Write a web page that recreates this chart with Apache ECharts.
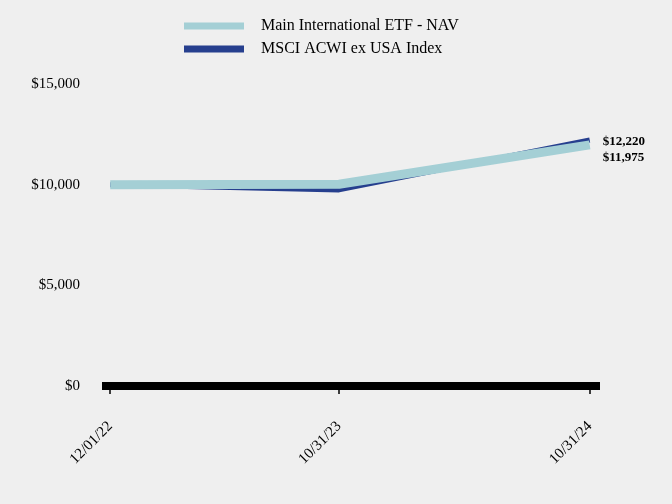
<!DOCTYPE html>
<html>
<head>
<meta charset="utf-8">
<script src="https://cdn.jsdelivr.net/npm/echarts@6/dist/echarts.min.js"></script>
<style>
html,body{margin:0;padding:0;background:#efefef;}
#chart{width:672px;height:504px;}
</style>
</head>
<body>
<div id="chart"></div>
<script>
// 数据
var dates = ['2022-12-01', '2023-10-31', '2024-10-31'];
var fundValues = [10000, 10020, 11975];
var indexValues = [10000, 9740, 12220];
var yTicks = [0, 5000, 10000, 15000];

var fundName = 'Main International ETF - NAV';
var indexName = 'MSCI ACWI ex USA Index';

var DAY = 86400000;

function toTs(d) {
    var p = d.split('-');
    return Date.UTC(+p[0], +p[1] - 1, +p[2]);
}

function money(v) {
    return '$' + v.toLocaleString('en-US');
}

function pairs(vals) {
    var out = [];
    for (var i = 0; i < dates.length; i++) out.push([toTs(dates[i]), vals[i]]);
    return out;
}

var tickTs = dates.map(toTs);
var font = 'Liberation Serif, Times New Roman, serif';

var myChart = echarts.init(document.getElementById('chart'));
myChart.setOption({
    backgroundColor: '#efefef',
    animation: false,
    legend: {
        data: [fundName, indexName],
        orient: 'vertical',
        left: 179,
        top: 13,
        itemWidth: 60,
        itemHeight: 7,
        itemGap: 7,
        icon: 'rect',
        textStyle: {fontFamily: font, fontSize: 16, color: '#000', padding: [0, 0, 0, 12]}
    },
    grid: {left: 102, right: 72, top: 84, bottom: 118, containLabel: false},
    xAxis: {
        type: 'value',
        min: tickTs[0] - 12 * DAY,
        max: tickTs[2] + 15 * DAY,
        splitLine: {show: false},
        axisLine: {lineStyle: {color: '#000', width: 8, cap: 'butt'}},
        axisTick: {show: true, customValues: tickTs, length: 8, lineStyle: {color: '#000', width: 1.5}},
        axisLabel: {
            customValues: tickTs,
            rotate: 45,
            margin: 38,
            fontFamily: font,
            fontSize: 15,
            color: '#000',
            formatter: function (v) {
                var d = new Date(v);
                var mm = ('0' + (d.getUTCMonth() + 1)).slice(-2);
                var dd = ('0' + d.getUTCDate()).slice(-2);
                var yy = ('' + d.getUTCFullYear()).slice(-2);
                return mm + '/' + dd + '/' + yy;
            }
        }
    },
    yAxis: {
        type: 'value',
        min: 0,
        max: 15000,
        interval: 5000,
        splitLine: {show: false},
        axisLine: {show: false},
        axisTick: {show: false},
        axisLabel: {
            margin: 22,
            fontFamily: font,
            fontSize: 15,
            color: '#000',
            formatter: function (v) { return money(v); }
        }
    },
    series: [
        {
            name: indexName,
            type: 'line',
            data: pairs(indexValues),
            symbol: 'none',
            color: '#263f8e',
            lineStyle: {width: 5, color: '#263f8e'},
            endLabel: {
                show: true,
                distance: 13,
                offset: [0, 2],
                fontFamily: font,
                fontSize: 13,
                fontWeight: 'bold',
                color: '#000',
                formatter: function (p) { return money(p.value[1]); }
            }
        },
        {
            name: fundName,
            type: 'line',
            data: pairs(fundValues),
            symbol: 'none',
            color: '#a4cfd5',
            lineStyle: {width: 9, color: '#a4cfd5'},
            endLabel: {
                show: true,
                distance: 13,
                offset: [0, 13],
                fontFamily: font,
                fontSize: 13,
                fontWeight: 'bold',
                color: '#000',
                formatter: function (p) { return money(p.value[1]); }
            }
        }
    ]
});
</script>
</body>
</html>
